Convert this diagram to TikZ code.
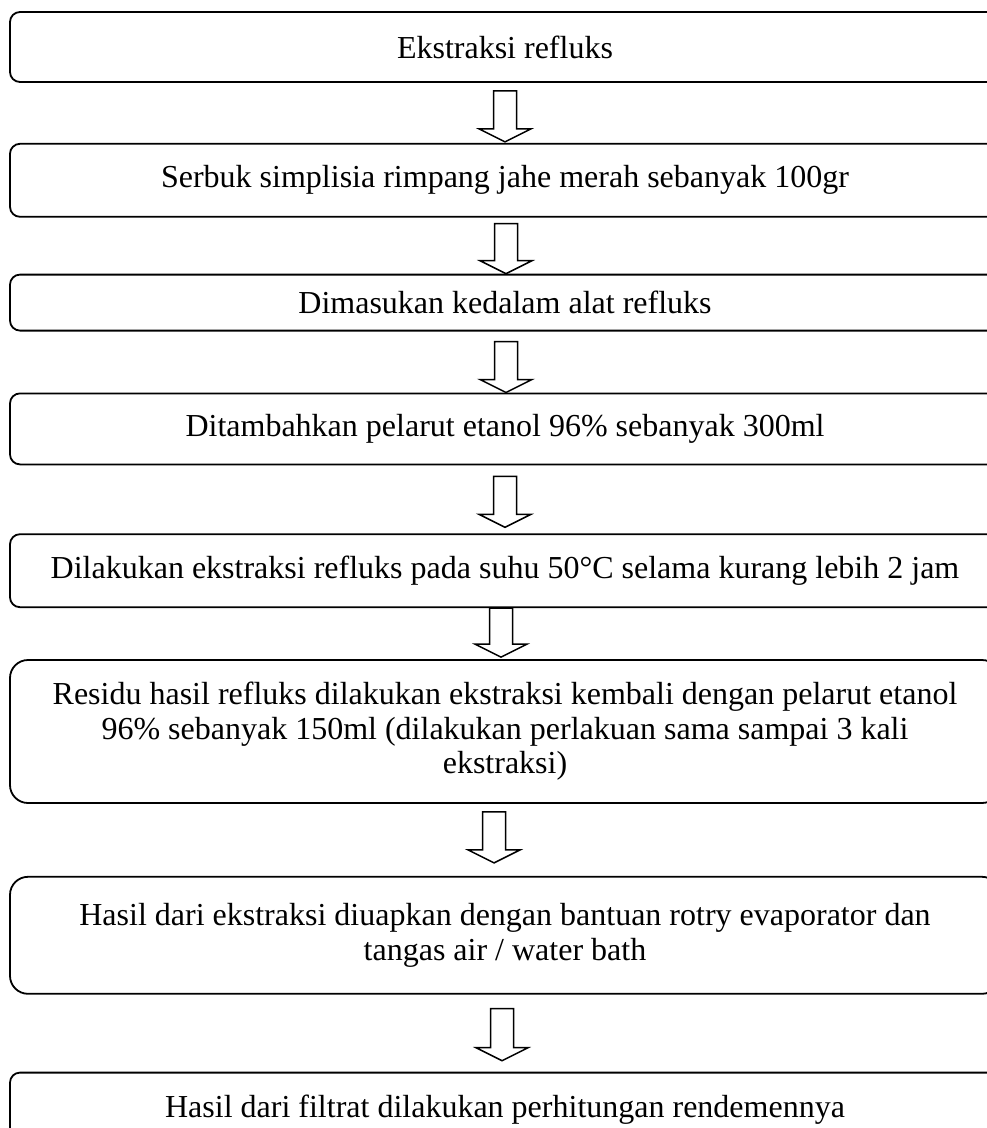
\documentclass[tikz,border=0pt]{standalone}
\usepackage{fontspec}
\setmainfont{Liberation Serif}
\usetikzlibrary{positioning, calc}
\tikzset{
  flowbox/.style={
    draw=black,
    line width=1.8pt,
    rounded corners=10pt,
    align=center,
    font=\fontsize{32}{34.5}\selectfont,
    minimum width=990pt,
    inner xsep=6pt,
    inner ysep=4pt,
  },
  flowtall/.style={flowbox, rounded corners=18pt},
  hollowarr/.style={draw=black, line width=1.5pt, fill=white, line join=miter},
}

\begin{document}
\begin{tikzpicture}[x=1pt, y=-1pt]
  \useasboundingbox (0,0) rectangle (987,1128);
  \clip (0,0) rectangle (987,1128);

  \node[flowbox, minimum height=70pt] (s1) at (505,47) {Ekstraksi refluks};
  \node[flowbox, minimum height=73pt, below=60pt of s1] (s2) {Serbuk simplisia rimpang jahe merah sebanyak 100gr};
  \node[flowbox, minimum height=56pt, below=56pt of s2] (s3) {Dimasukan kedalam alat refluks};
  \node[flowbox, minimum height=71pt, below=61pt of s3] (s4) {Ditambahkan pelarut etanol 96\% sebanyak 300ml};
  \node[flowbox, minimum height=73pt, below=68pt of s4] (s5) {Dilakukan ekstraksi refluks pada suhu 50°C selama kurang lebih 2 jam};
  \node[flowtall, minimum height=143pt, below=51pt of s5] (s6) {Residu hasil refluks dilakukan ekstraksi kembali dengan pelarut etanol\\
    96\% sebanyak 150ml (dilakukan perlakuan sama sampai 3 kali\\
    ekstraksi)};
  \node[flowtall, minimum height=117pt, below=72pt of s6] (s7) {Hasil dari ekstraksi diuapkan dengan bantuan rotry evaporator dan\\
    tangas air / water bath};
  \node[flowbox, minimum height=74pt, below=77pt of s7] (s8) {Hasil dari filtrat dilakukan perhitungan rendemennya};

  % block arrows: from/to/centre x/gap at top/gap at tip
  \foreach \a/\b/\ax/\gapA/\gapB in {s1/s2/505/8/1, s2/s3/506/6/0, s3/s4/506/10/0,
      s4/s5/505/11/6, s5/s6/501/0/2, s6/s7/494/8/13, s7/s8/502/14/11} {
    \draw[hollowarr] let \p1=(\a.south), \p2=(\b.north) in
      ({\ax pt-11.5pt},{\y1-\gapA pt}) -- ({\ax pt+11.5pt},{\y1-\gapA pt})
      -- ({\ax pt+11.5pt},{\y2+\gapB pt+13pt}) -- ({\ax pt+26pt},{\y2+\gapB pt+13pt})
      -- ({\ax pt},{\y2+\gapB pt}) -- ({\ax pt-26pt},{\y2+\gapB pt+13pt})
      -- ({\ax pt-11.5pt},{\y2+\gapB pt+13pt}) -- cycle;
  }
\end{tikzpicture}
\end{document}
